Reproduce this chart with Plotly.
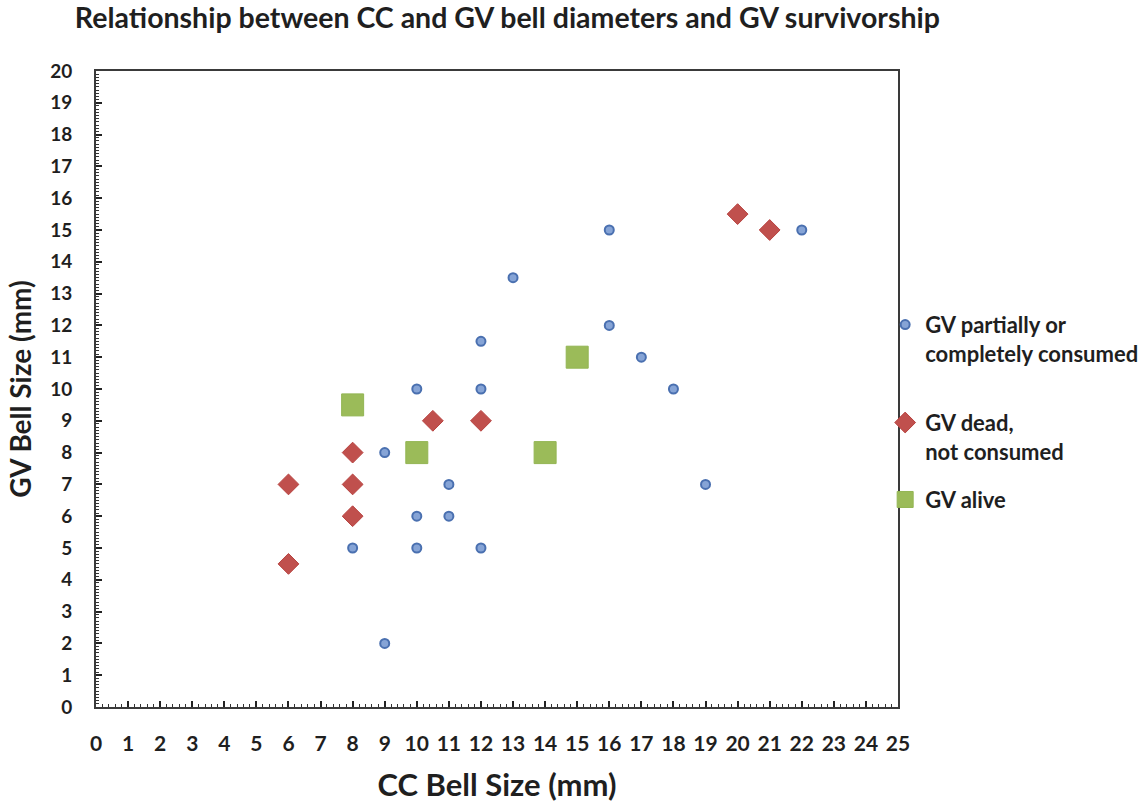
import plotly.graph_objects as go

# CC bell diameter (x) vs GV bell diameter (y), in mm, by GV fate
consumed_cc = [8, 9, 9, 10, 10, 10, 11, 11, 12, 12, 12, 13, 16, 16, 17, 18, 19, 22]
consumed_gv = [5, 8, 2, 10, 6, 5, 7, 6, 11.5, 10, 5, 13.5, 15, 12, 11, 10, 7, 15]

dead_cc = [6, 6, 8, 8, 8, 10.5, 12, 20, 21]
dead_gv = [7, 4.5, 8, 7, 6, 9, 9, 15.5, 15]

alive_cc = [8, 10, 14, 15]
alive_gv = [9.5, 8, 8, 11]

series_names = [
    "GV partially or<br>completely consumed",
    "GV dead,<br>not consumed",
    "GV alive",
]

x_ticks = list(range(0, 26))
y_ticks = list(range(0, 21))

FONT = "Lato"
INK = "#1f1f1f"

fig = go.Figure()
fig.add_trace(go.Scatter(
    x=consumed_cc, y=consumed_gv, mode="markers", name=series_names[0],
    legend="legend", showlegend=True,
    marker=dict(symbol="circle", size=9, color="#86a4d6",
                line=dict(color="#4a70b0", width=2)),
))
fig.add_trace(go.Scatter(
    x=dead_cc, y=dead_gv, mode="markers", name=series_names[1],
    legend="legend2", showlegend=True,
    marker=dict(symbol="diamond", size=16, color="#c0504d",
                line=dict(color="#b84340", width=1)),
))
fig.add_trace(go.Scatter(
    x=alive_cc, y=alive_gv, mode="markers", name=series_names[2],
    legend="legend3", showlegend=True,
    marker=dict(symbol="square", size=22, color="#9bbb59",
                line=dict(color="#93b553", width=1)),
))

axis_common = dict(
    showgrid=False, zeroline=False,
    showline=True, linecolor="#3a3a3a", linewidth=2, mirror=True,
    ticks="inside", ticklen=6, tickwidth=1.5, tickcolor="#222",
)

fig.update_xaxes(
    range=[0, 25], tickmode="array", tickvals=x_ticks,
    ticktext=[str(v) for v in x_ticks],
    tickfont=dict(family=FONT, size=21, color=INK, weight="bold"),
    minor=dict(ticks="inside", dtick=0.2, ticklen=3, tickwidth=1, tickcolor="#333"),
    ticklabelstandoff=17,
    title=dict(text="CC Bell Size (mm)", standoff=20,
               font=dict(family=FONT, size=31, color=INK, weight="bold")),
    **axis_common,
)
fig.update_yaxes(
    range=[0, 20], tickmode="array", tickvals=y_ticks,
    ticktext=[str(v) for v in y_ticks],
    tickfont=dict(family=FONT, size=19, color=INK, weight="bold"),
    minor=dict(ticks="inside", dtick=0.1, ticklen=3, tickwidth=1, tickcolor="#333"),
    ticklabelstandoff=18,
    title=dict(text="GV Bell Size (mm)", standoff=10,
               font=dict(family=FONT, size=28, color=INK, weight="bold")),
    **axis_common,
)

legend_common = dict(
    x=0.984, xanchor="left", yanchor="top",
    bgcolor="rgba(0,0,0,0)", borderwidth=0,
    font=dict(family=FONT, size=22, color=INK, weight="bold"),
    valign="top", itemwidth=30,
)

fig.update_layout(
    width=1148, height=803,
    margin=dict(l=96, r=250, t=71, b=96, autoexpand=False),
    paper_bgcolor="white", plot_bgcolor="white",
    font=dict(family=FONT, color=INK),
    showlegend=True,
    title=dict(
        text="Relationship between CC and GV bell diameters and GV survivorship",
        x=0.442, xanchor="center", xref="container",
        y=0.99, yanchor="top", yref="container",
        font=dict(family=FONT, size=28.5, color=INK, weight="bold"),
    ),
    legend=dict(y=0.634, **legend_common),
    legend2=dict(y=0.48, **legend_common),
    legend3=dict(y=0.359, **legend_common),
)

fig.write_html("out.html")
